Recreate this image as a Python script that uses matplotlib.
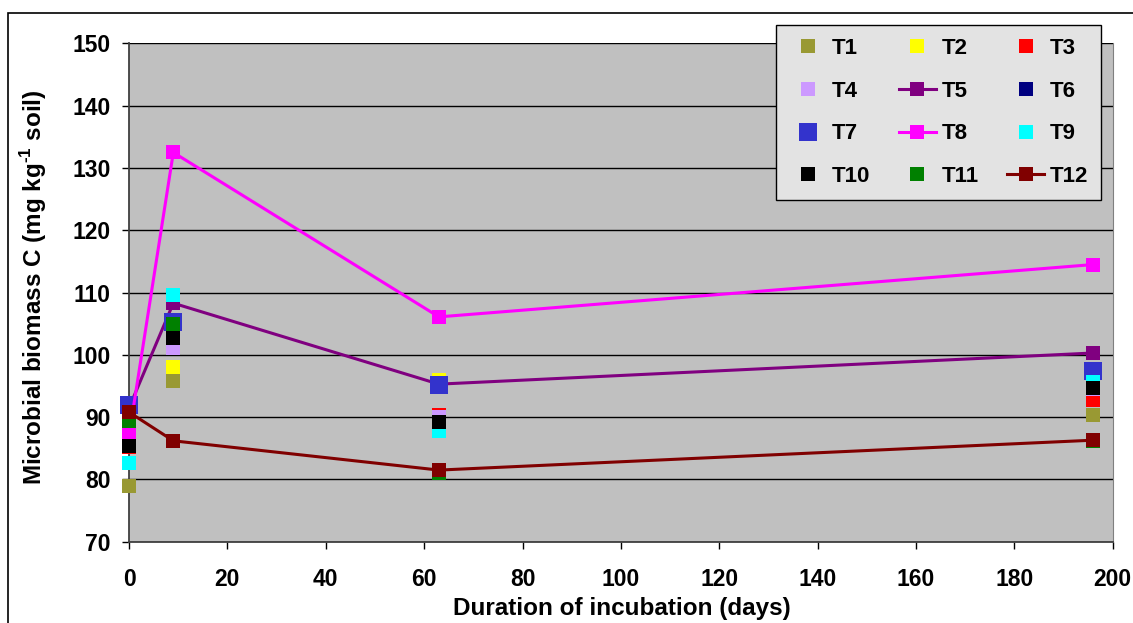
import matplotlib.pyplot as plt
from matplotlib.patches import Rectangle

plt.rcParams['font.family'] = ['Liberation Sans', 'DejaVu Sans']
plt.rcParams['font.weight'] = 'bold'
plt.rcParams['mathtext.fontset'] = 'custom'
plt.rcParams['mathtext.rm'] = 'Liberation Sans:bold'
plt.rcParams['mathtext.bf'] = 'Liberation Sans:bold'

days = [0, 9, 63, 196]

T1 = [78.9, 95.8, 89.5, 90.4]
T2 = [86.0, 98.0, 96.0, 95.0]
T3 = [85.2, 104.0, 90.3, 92.8]
T4 = [86.5, 101.1, 90.0, 94.5]
T5 = [91.5, 108.3, 95.3, 100.3]
T6 = [90.0, 105.0, 95.0, 97.0]
T7 = [91.9, 105.3, 95.1, 97.4]
T8 = [87.1, 132.5, 106.1, 114.5]
T9 = [82.7, 109.6, 87.7, 95.6]
T10 = [85.4, 102.7, 89.3, 94.7]
T11 = [89.4, 105.0, 81.0, 86.1]
T12 = [90.8, 86.2, 81.5, 86.3]

names = ['T1', 'T2', 'T3', 'T4', 'T5', 'T6', 'T7', 'T8', 'T9', 'T10', 'T11', 'T12']
series = [T1, T2, T3, T4, T5, T6, T7, T8, T9, T10, T11, T12]
colors = ['#999933', '#FFFF00', '#FF0000', '#CC99FF', '#800080', '#000080',
          '#3333CC', '#FF00FF', '#00FFFF', '#000000', '#008000', '#800000']
with_line = ['T5', 'T8', 'T12']

fig = plt.figure(figsize=(11.33, 6.23), dpi=100)
ax = fig.add_axes([0.1139, 0.1305, 0.8682, 0.7997])
ax.set_facecolor('#C0C0C0')

handles = {}
for name, vals, c in zip(names, series, colors):
    ms = 13.5 if name == 'T7' else 10.5
    ls = '-' if name in with_line else 'none'
    h, = ax.plot(days, vals, linestyle=ls, lw=2.2, color=c, marker='s',
                 markersize=ms, markeredgewidth=0, label=name, zorder=3,
                 clip_on=False)
    handles[name] = h

ax.set_xlim(0, 200)
ax.set_ylim(70, 150)
ax.set_xticks(range(0, 201, 20))
ax.set_yticks(range(70, 151, 10))
ax.yaxis.grid(True, color='black', lw=1)
ax.set_axisbelow(True)
ax.tick_params(axis='both', direction='out', length=5, width=1, labelsize=16.5)
ax.tick_params(axis='x', pad=14)
ax.tick_params(axis='y', pad=8)
for lab in ax.get_xticklabels() + ax.get_yticklabels():
    lab.set_fontweight('bold')

ax.spines['top'].set_visible(False)
ax.spines['right'].set_color('#808080')
ax.spines['left'].set_color('#404040')
ax.spines['bottom'].set_color('#404040')
ax.spines['left'].set_linewidth(1.3)
ax.spines['bottom'].set_linewidth(1.3)

fig.text(622 / 1133, 1 - 615.5 / 623, 'Duration of incubation (days)', fontsize=17.5,
         fontweight='bold', ha='center', va='baseline')
fig.text(34 / 1133, 1 - 287.5 / 623, 'Microbial biomass C (mg kg$^{\\text{-1}}$ soil)',
         fontsize=17.5, fontweight='bold', rotation=90, ha='center', va='center')

# legend filled row by row, like the original
order = ['T1', 'T4', 'T7', 'T10', 'T2', 'T5', 'T8', 'T11', 'T3', 'T6', 'T9', 'T12']
leg = fig.legend([handles[n] for n in order], order, ncol=3, loc='upper right',
                 bbox_to_anchor=(0.972, 0.960), bbox_transform=fig.transFigure,
                 borderaxespad=0, fancybox=False, framealpha=1,
                 facecolor='#E3E3E3', edgecolor='black',
                 handlelength=1.65, handletextpad=0.25, columnspacing=1.3,
                 labelspacing=0.97, borderpad=0.6, prop={'weight': 'bold', 'size': 16})
leg.get_frame().set_linewidth(1)

fig.patches.append(Rectangle((0.0071, -0.05), 1.2, 0.9786 + 0.05, transform=fig.transFigure,
                             fill=False, edgecolor='black', lw=1.2))

fig.savefig('out.png', dpi=100)
